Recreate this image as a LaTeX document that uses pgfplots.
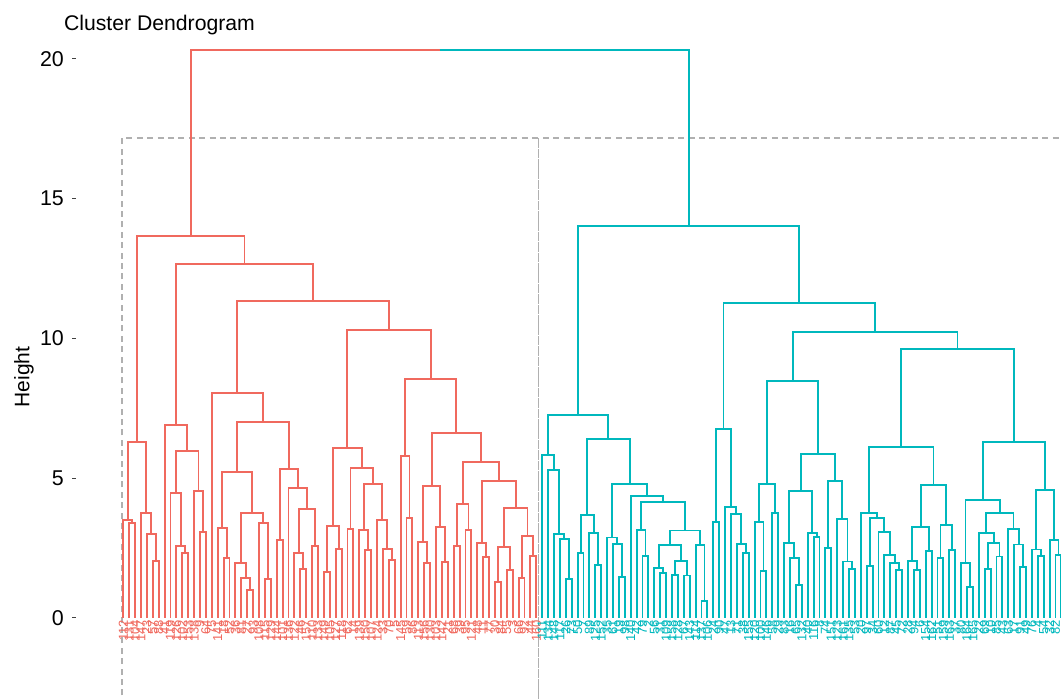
\documentclass[border=0pt]{standalone}
\usepackage{pgfplots}
\usepackage{pgfplotstable}
\pgfplotsset{compat=1.18}
\usepackage{fontspec}
\setmainfont{Liberation Sans}
\definecolor{dred}{HTML}{F0695E}
\definecolor{dcyan}{HTML}{00B8BD}
\definecolor{rectgray}{HTML}{B0B0B0}

% merges: xl = left child position, hl = left child height, h = merge height, xr, hr
\pgfplotstableread{
xl hl h xr hr
1 0 3.41 2 0
0 0 3.51 1.5 3.41
5 0 2.04 6 0
4 0 3.00 5.5 2.04
3 0 3.77 4.75 3.00
0.75 3.51 6.30 3.875 3.77
10 0 2.31 11 0
9 0 2.58 10.5 2.31
8 0 4.48 9.75 2.58
13 0 3.07 14 0
12 0 4.54 13.5 3.07
8.875 4.48 5.99 12.75 4.54
7 0 6.90 10.8125 5.99
17 0 2.15 18 0
16 0 3.22 17.5 2.15
21 0 1.00 22 0
20 0 1.42 21.5 1.00
19 0 1.96 20.75 1.42
24 0 1.40 25 0
23 0 3.39 24.5 1.40
19.875 1.96 3.77 23.75 3.39
16.75 3.22 5.21 21.8125 3.77
26 0 2.79 27 0
30 0 1.74 31 0
29 0 2.31 30.5 1.74
32 0 2.59 33 0
29.75 2.31 3.89 32.5 2.59
28 0 4.64 31.125 3.89
26.5 2.79 5.32 29.5625 4.64
19.28125 5.21 7.02 28.03125 5.32
15 0 8.06 23.65625 7.02
34 0 1.64 35 0
36 0 2.46 37 0
34.5 1.64 3.29 36.5 2.46
38 0 3.18 39 0
41 0 2.43 42 0
40 0 3.15 41.5 2.43
45 0 2.08 46 0
44 0 2.46 45.5 2.08
43 0 3.51 44.75 2.46
40.75 3.15 4.78 43.875 3.51
38.5 3.18 5.38 42.3125 4.78
35.5 3.29 6.07 40.40625 5.38
48 0 3.57 49 0
47 0 5.81 48.5 3.57
51 0 1.96 52 0
50 0 2.71 51.5 1.96
54 0 2.01 55 0
53 0 3.27 54.5 2.01
50.75 2.71 4.73 53.75 3.27
56 0 2.58 57 0
58 0 3.15 59 0
56.5 2.58 4.07 58.5 3.15
61 0 2.19 62 0
60 0 2.67 61.5 2.19
63 0 1.30 64 0
65 0 1.72 66 0
63.5 1.30 2.55 65.5 1.72
67 0 1.44 68 0
69 0 2.22 70 0
67.5 1.44 2.93 69.5 2.22
64.5 2.55 3.92 68.5 2.93
60.75 2.67 4.90 66.5 3.92
57.5 4.07 5.59 63.625 4.90
52.25 4.73 6.63 60.5625 5.59
47.75 5.81 8.54 56.40625 6.63
37.953125 6.07 10.30 52.078125 8.54
19.328125 8.06 11.34 45.015625 10.30
8.90625 6.90 12.67 32.171875 11.34
2.3125 6.30 13.67 20.5390625 12.67
}\redU

\pgfplotstableread{
xl hl h xr hr
75 0 1.38 76 0
74 0 2.82 75.5 1.38
73 0 2.99 74.75 2.82
72 0 5.30 73.875 2.99
71 0 5.83 72.9375 5.30
77 0 2.31 78 0
80 0 1.90 81 0
79 0 3.03 80.5 1.90
77.5 2.31 3.69 79.75 3.03
84 0 1.47 85 0
83 0 2.65 84.5 1.47
82 0 2.88 83.75 2.65
88 0 2.22 89 0
87 0 3.16 88.5 2.22
91 0 1.60 92 0
90 0 1.78 91.5 1.60
93 0 1.54 94 0
95 0 1.52 96 0
93.5 1.54 2.05 95.5 1.52
90.75 1.78 2.61 94.5 2.05
98 0 0.61 99 0
97 0 2.60 98.5 0.61
92.625 2.61 3.13 97.75 2.60
87.75 3.16 4.16 95.1875 3.13
86 0 4.36 91.46875 4.16
82.875 2.88 4.79 88.734375 4.36
78.625 3.69 6.39 85.8046875 4.79
71.96875 5.83 7.26 82.21484375 6.39
100 0 3.45 101 0
105 0 2.34 106 0
104 0 2.64 105.5 2.34
103 0 3.71 104.75 2.64
102 0 3.96 103.875 3.71
100.5 3.45 6.76 102.9375 3.96
108 0 1.68 109 0
107 0 3.45 108.5 1.68
110 0 3.75 111 0
107.75 3.45 4.78 110.5 3.75
114 0 1.18 115 0
113 0 2.14 114.5 1.18
112 0 2.69 113.75 2.14
117 0 2.91 118 0
116 0 3.04 117.5 2.91
112.875 2.69 4.54 116.75 3.04
119 0 2.49 120 0
123 0 1.74 124 0
122 0 2.02 123.5 1.74
121 0 3.53 122.75 2.02
119.5 2.49 4.90 121.875 3.53
114.8125 4.54 5.86 120.6875 4.90
109.125 4.78 8.49 117.75 5.86
126 0 1.86 127 0
131 0 1.72 132 0
130 0 1.96 131.5 1.72
129 0 2.25 130.75 1.96
128 0 3.08 129.875 2.25
126.5 1.86 3.57 128.9375 3.08
125 0 3.77 127.71875 3.57
134 0 1.72 135 0
133 0 2.04 134.5 1.72
136 0 2.40 137 0
133.75 2.04 3.27 136.5 2.40
138 0 2.14 139 0
140 0 2.43 141 0
138.5 2.14 3.33 140.5 2.43
135.125 3.27 4.76 139.5 3.33
126.359375 3.77 6.13 137.3125 4.76
143 0 1.12 144 0
142 0 1.96 143.5 1.12
146 0 1.74 147 0
148 0 2.20 149 0
146.5 1.74 2.67 148.5 2.20
145 0 3.05 147.5 2.67
152 0 1.84 153 0
151 0 2.63 152.5 1.84
150 0 3.19 151.75 2.63
146.25 3.05 3.75 150.875 3.19
142.75 1.96 4.22 148.5625 3.75
155 0 2.22 156 0
154 0 2.45 155.5 2.22
158 0 2.25 159 0
157 0 2.79 158.5 2.25
154.75 2.45 4.58 157.75 2.79
145.65625 4.22 6.31 156.25 4.58
131.8359375 6.13 9.61 150.953125 6.31
113.4375 8.49 10.23 141.39453125 9.61
101.71875 6.76 11.27 127.416015625 10.23
77.091796875 7.26 14.02 114.5673828125 11.27
}\cyanU

\pgfplotstableread{
x l
0 112
1 131
2 104
3 147
4 23
5 57
6 88
7 41
8 119
9 126
10 102
11 153
12 138
13 9
14 64
15 75
16 141
17 18
18 52
19 36
20 81
21 27
22 93
23 108
24 115
25 129
26 144
27 101
28 136
29 122
30 46
31 157
32 110
33 133
34 149
35 105
36 127
37 118
38 62
39 14
40 139
41 150
42 107
43 124
44 33
45 70
46 5
47 145
48 59
49 86
50 113
51 156
52 130
53 103
54 142
55 21
56 68
57 39
58 95
59 121
60 48
61 11
62 77
63 30
64 84
65 55
66 3
67 66
68 92
69 44
70 160
}\redL

\pgfplotstableread{
x l
71 111
72 134
73 148
74 117
75 26
76 73
77 50
78 7
79 89
80 125
81 152
82 35
83 61
84 19
85 98
86 140
87 42
88 79
89 2
90 56
91 31
92 109
93 158
94 128
95 67
96 143
97 114
98 137
99 106
100 24
101 90
102 47
103 13
104 71
105 38
106 155
107 120
108 100
109 146
110 58
111 29
112 83
113 16
114 65
115 132
116 40
117 116
118 8
119 74
120 151
121 123
122 161
123 135
124 53
125 20
126 97
127 34
128 60
129 12
130 87
131 45
132 72
133 28
134 94
135 6
136 154
137 162
138 51
139 159
140 163
141 37
142 80
143 164
144 165
145 22
146 69
147 10
148 85
149 43
150 63
151 17
152 91
153 49
154 76
155 4
156 54
157 32
158 82
159 96
}\cyanL

\newcommand\drawU[2]{%
  \pgfplotstablegetrowsof{#1}%
  \pgfmathtruncatemacro\nU{\pgfplotsretval-1}%
  \pgfplotsforeachungrouped \i in {0,...,\nU}{%
    \pgfplotstablegetelem{\i}{xl}\of#1\let\ua\pgfplotsretval
    \pgfplotstablegetelem{\i}{hl}\of#1\let\ub\pgfplotsretval
    \pgfplotstablegetelem{\i}{h}\of#1\let\uc\pgfplotsretval
    \pgfplotstablegetelem{\i}{xr}\of#1\let\ud\pgfplotsretval
    \pgfplotstablegetelem{\i}{hr}\of#1\let\ue\pgfplotsretval
    \edef\temp{\noexpand\addplot[#2] coordinates {(\ua,\ub) (\ua,\uc) (\ud,\uc) (\ud,\ue)};}%
    \temp
  }%
}

\begin{document}
\begin{tikzpicture}
\begin{axis}[
  scale only axis,
  width=492.5pt, height=329.5pt,
  xmin=-8.017, xmax=158.93,
  ymin=-2.898, ymax=20.68,
  axis x line=none,
  axis y line*=left,
  y axis line style={draw=none},
  xtick=\empty,
  ytick={0,5,10,15,20},
  tick align=outside,
  major tick length=1.75pt,
  tick style={draw=black!75, line width=0.5pt},
  /pgf/number format/assume math mode=true,
  yticklabel style={font=\fontsize{10.7}{12}\selectfont, text=black, xshift=-0.8pt},
  ylabel={Height},
  ylabel style={font=\fontsize{10.5}{12}\selectfont, at={(axis description cs:-0.0528,0.4886)}, anchor=center},
  title={Cluster Dendrogram},
  title style={font=\fontsize{10.6}{12}\selectfont, at={(axis description cs:-0.0193,1)}, anchor=base west, yshift=-1.5pt},
  clip=true,
]
\coordinate (SW) at (rel axis cs:0,0);
% cluster rectangles
\addplot[rectgray, line width=0.6pt, dash pattern=on 3pt off 2.2pt] coordinates {(-0.22,-5) (-0.22,17.17) (70.4,17.17) (70.4,-5)};
\addplot[rectgray, line width=0.6pt, dash pattern=on 3pt off 2.2pt] coordinates {(70.4,-5) (70.4,17.17) (175,17.17)};
% dendrogram
\drawU{\redU}{dred, line width=0.95pt}
\drawU{\cyanU}{dcyan, line width=0.95pt}
\addplot[dred, line width=0.95pt] coordinates {(11.42578125,13.67) (11.42578125,20.32) (53.6277,20.32)};
\addplot[dcyan, line width=0.95pt] coordinates {(53.6277,20.32) (95.8296,20.32) (95.8296,14.02)};
% leaf labels
\addplot[draw=none, mark=none, nodes near coords, point meta=explicit symbolic,
  every node near coord/.style={rotate=90, anchor=east, inner sep=0.8pt, text=dred, font=\fontsize{6.5}{6.5}\selectfont}]
  table[x=x, y expr=0, meta=l] {\redL};
\addplot[draw=none, mark=none, nodes near coords, point meta=explicit symbolic,
  every node near coord/.style={rotate=90, anchor=east, inner sep=0.8pt, text=dcyan, font=\fontsize{6.5}{6.5}\selectfont}]
  table[x=x, y expr=0, meta=l] {\cyanL};
\end{axis}
\pgfresetboundingbox
\path[use as bounding box] (SW) ++(-38pt,0) rectangle ++(530.5pt,349.5pt);
\end{tikzpicture}
\end{document}
